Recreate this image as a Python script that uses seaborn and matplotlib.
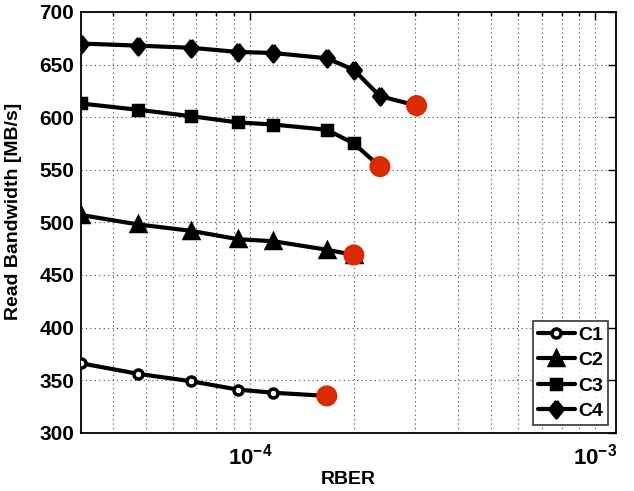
import numpy as np
import pandas as pd
import matplotlib
matplotlib.use("Agg")
import matplotlib.pyplot as plt
import matplotlib.ticker as mticker
import seaborn as sns

# ---- data ----
rber = [3.24e-5, 4.74e-5, 6.73e-5, 9.23e-5, 1.17e-4, 1.67e-4, 2.0e-4, 2.38e-4, 3.04e-4]
c1 = [366, 356, 349, 341, 338, 335]
c2 = [507, 498, 492, 484, 482, 474, 469]
c3 = [613, 607, 601, 595, 593, 588, 575, 553]
c4 = [670, 668, 666, 662, 661, 656, 645, 620, 611]
series_names = ["C1", "C2", "C3", "C4"]
series_vals = [c1, c2, c3, c4]
x_ticks = [1e-4, 1e-3]
x_ticklabels = [r"$\mathbf{10^{-4}}$", r"$\mathbf{10^{-3}}$"]
y_ticks = [300, 350, 400, 450, 500, 550, 600, 650, 700]

diamond = [(0, 1), (0.8, 0), (0, -1), (-0.8, 0), (0, 1)]
markers = ["o", "^", "s", diamond]
msizes = [6.5, 9.5, 7, 12]
faces = ["white", "black", "black", "black"]

sns.set_style("white")
plt.rcParams["font.family"] = ["Liberation Sans", "DejaVu Sans"]
plt.rcParams["font.weight"] = "bold"
plt.rcParams["text.color"] = "black"
plt.rcParams["axes.labelcolor"] = "black"
plt.rcParams["xtick.color"] = "black"
plt.rcParams["ytick.color"] = "black"
plt.rcParams["mathtext.fontset"] = "custom"
plt.rcParams["mathtext.rm"] = "Liberation Sans:bold"
plt.rcParams["mathtext.bf"] = "Liberation Sans:bold"
plt.rcParams["mathtext.it"] = "Liberation Sans:bold:italic"

fig = plt.figure(figsize=(6.34, 4.91), dpi=100)
ax = fig.add_axes([0.1278, 0.1187, 0.8438, 0.8569])

rows = []
for name, vals in zip(series_names, series_vals):
    for x, v in zip(rber, vals):
        rows.append({"RBER": x, "BW": v, "series": name})
df = pd.DataFrame(rows)

for name, mk, ms, fc in zip(series_names, markers, msizes, faces):
    sub = df[df["series"] == name]
    sns.lineplot(data=sub, x="RBER", y="BW", ax=ax, color="black", lw=3,
                 marker=mk, markersize=ms, markeredgewidth=2.5,
                 markerfacecolor=fc, markeredgecolor="black",
                 label=name, zorder=3)

ends = pd.DataFrame({"RBER": [rber[len(v) - 1] for v in series_vals],
                     "BW": [v[-1] for v in series_vals]})
sns.scatterplot(data=ends, x="RBER", y="BW", ax=ax, color="#dc2a00", s=230,
                edgecolor="none", zorder=4, legend=False)

ax.set_xscale("log")
ax.set_xlim(3.24e-5, 1.15e-3)
ax.set_ylim(300, 700)
ax.xaxis.set_major_locator(mticker.FixedLocator(x_ticks))
ax.xaxis.set_major_formatter(mticker.FixedFormatter(x_ticklabels))
ax.xaxis.set_minor_locator(mticker.LogLocator(base=10, subs=np.arange(2, 10)))
ax.xaxis.set_minor_formatter(mticker.NullFormatter())
ax.set_yticks(y_ticks)

ax.grid(True, which="major", axis="both", color="#444444", linestyle=(0, (1, 3)), lw=0.8)
ax.grid(True, which="minor", axis="x", color="#444444", linestyle=(0, (1, 3)), lw=0.8)

for s in ax.spines.values():
    s.set_visible(True)
    s.set_color("black")
    s.set_linewidth(1.3)

ax.tick_params(axis="both", which="both", direction="in", top=True, right=True,
               colors="black", labelcolor="black")
ax.tick_params(axis="both", which="major", length=6, width=1)
ax.tick_params(axis="x", which="minor", length=3, width=1)
ax.tick_params(axis="y", labelsize=15, pad=5)
ax.tick_params(axis="x", labelsize=16, pad=8)
for lbl in ax.get_yticklabels():
    lbl.set_fontweight("bold")

ax.set_xlabel("RBER", fontsize=14, fontweight="bold")
ax.xaxis.set_label_coords(0.5, -0.09)
ax.set_ylabel("Read Bandwidth [MB/s]", fontsize=14, fontweight="bold")
ax.yaxis.set_label_coords(-0.11, 0.527)

leg = ax.legend(loc="lower right", fontsize=14, frameon=True, fancybox=False,
                edgecolor="black", handlelength=1.9, handletextpad=0.2,
                borderpad=0.25, labelspacing=0.4, borderaxespad=0.4)
leg.get_frame().set_linewidth(1.2)
for t in leg.get_texts():
    t.set_fontweight("bold")

fig.savefig("out.png", dpi=100)
